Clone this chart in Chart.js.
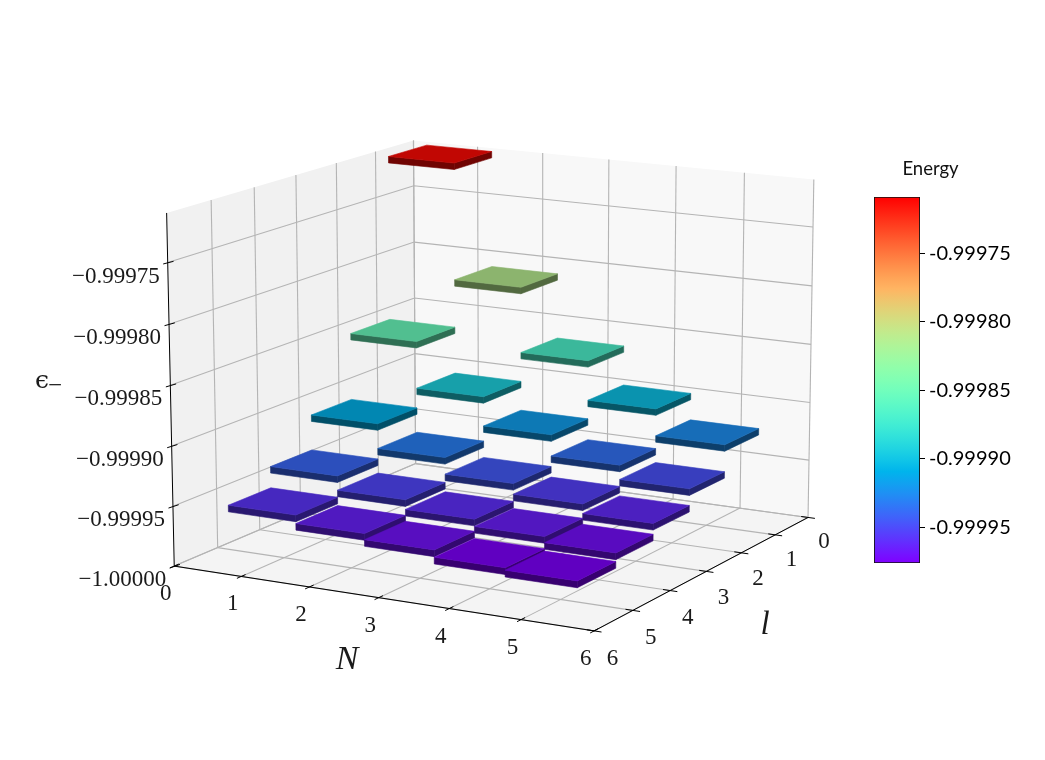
<!DOCTYPE html>
<html>
<head>
<meta charset="utf-8">
<script src="https://cdn.jsdelivr.net/npm/chart.js@4"></script>
<style>
  body { margin: 0; background: #fff; }
  #wrap { position: relative; width: 1045px; height: 760px; overflow: hidden; }
  canvas { position: absolute; }
</style>
</head>
<body>
<div id="wrap">
  <canvas id="main" width="1045" height="760" style="left:0;top:0"></canvas>
  <canvas id="cbar" width="185" height="430" style="left:860px;top:150px"></canvas>
</div>
<script>
// data
const Ns = [1, 2, 3, 4, 5];
const ls = [1, 2, 3, 4, 5];
const energy_l1 = [-0.999712, -0.999812, -0.999868, -0.999902, -0.999925];
const energy_l2 = [-0.999853, -0.999893, -0.999918, -0.999936, -0.999948];
const energy_l3 = [-0.99991, -0.999931, -0.999945, -0.999954, -0.999962];
const energy_l4 = [-0.99994, -0.999952, -0.99996, -0.999966, -0.999971];
const energy_l5 = [-0.999958, -0.999965, -0.99997, -0.999976, -0.999978];
const energies = [energy_l1, energy_l2, energy_l3, energy_l4, energy_l5];

const axisTicks = [0, 1, 2, 3, 4, 5, 6];
const zTicks = [-1.0, -0.99995, -0.9999, -0.99985, -0.9998, -0.99975];
const cbTicks = [-0.99995, -0.9999, -0.99985, -0.9998, -0.99975];

const zMin = -1.0, zMax = -0.99971;
const vMin = -0.999976, vMax = -0.999709;
const barThick = 0.0000055;

// where the corners of the box land on the page, the projection is fitted to these
const calib = [
  [0, 0, 0, 416, 465], [6, 0, 0, 808, 516], [0, 6, 0, 174, 565], [6, 6, 0, 594, 632],
  [0, 0, 1, 413, 140], [6, 0, 1, 814, 180], [0, 6, 1, 167, 213]
];

function solve(A, b) {
  const n = b.length;
  for (let i = 0; i < n; i++) {
    let p = i;
    for (let r = i + 1; r < n; r++) if (Math.abs(A[r][i]) > Math.abs(A[p][i])) p = r;
    [A[i], A[p]] = [A[p], A[i]];
    [b[i], b[p]] = [b[p], b[i]];
    for (let r = i + 1; r < n; r++) {
      const f = A[r][i] / A[i][i];
      for (let c = i; c < n; c++) A[r][c] -= f * A[i][c];
      b[r] -= f * b[i];
    }
  }
  const out = new Array(n).fill(0);
  for (let i = n - 1; i >= 0; i--) {
    let s = b[i];
    for (let c = i + 1; c < n; c++) s -= A[i][c] * out[c];
    out[i] = s / A[i][i];
  }
  return out;
}

function fitProjection() {
  const rows = [], rhs = [];
  calib.forEach(c => {
    const u = c[0] / 6, v = c[1] / 6, w = c[2], x = c[3], y = c[4];
    rows.push([1, u, v, w, 0, 0, 0, 0, -x * u, -x * v, -x * w]); rhs.push(x);
    rows.push([0, 0, 0, 0, 1, u, v, w, -y * u, -y * v, -y * w]); rhs.push(y);
  });
  const n = 11;
  const AtA = [], Atb = [];
  for (let i = 0; i < n; i++) {
    AtA.push(new Array(n).fill(0));
    Atb.push(0);
    rows.forEach((r, k) => {
      for (let j = 0; j < n; j++) AtA[i][j] += r[i] * r[j];
      Atb[i] += r[i] * rhs[k];
    });
  }
  return solve(AtA, Atb);
}
const P = fitProjection();

function project(N, l, z) {
  const u = N / 6, v = l / 6, w = (z - zMin) / (zMax - zMin);
  const d = 1 + P[8] * u + P[9] * v + P[10] * w;
  return {
    x: (P[0] + P[1] * u + P[2] * v + P[3] * w) / d,
    y: (P[4] + P[5] * u + P[6] * v + P[7] * w) / d
  };
}

// matplotlib rainbow
function rainbow(t) {
  const c = v => Math.max(0, Math.min(1, v));
  return [c(Math.abs(2 * t - 0.5)), c(Math.sin(Math.PI * t)), c(Math.cos(Math.PI * t / 2))];
}
function rgbStr(rgb, k) {
  return 'rgb(' + rgb.map(v => Math.round(v * k * 255)).join(',') + ')';
}

const datasets = [];
function addPoly(pts, color, seal) {
  datasets.push({ data: pts, showLine: true, pointRadius: 0, borderWidth: 0, polyFill: color, seal: seal, order: -datasets.length });
}
function addLine(pts, color, width) {
  datasets.push({ data: pts, showLine: true, pointRadius: 0, borderColor: color, borderWidth: width, order: -datasets.length });
}

// panes
addPoly([project(0, 0, zMin), project(0, 6, zMin), project(0, 6, zMax), project(0, 0, zMax)], '#f1f1f1');
addPoly([project(0, 0, zMin), project(6, 0, zMin), project(6, 0, zMax), project(0, 0, zMax)], '#f8f8f8');
addPoly([project(0, 0, zMin), project(6, 0, zMin), project(6, 6, zMin), project(0, 6, zMin)], '#f4f4f4');

// grid
const gridCol = '#b4b4b4';
axisTicks.forEach(t => {
  addLine([project(t, 0, zMin), project(t, 6, zMin)], gridCol, 1.1);
  addLine([project(t, 0, zMin), project(t, 0, zMax)], gridCol, 1.1);
  addLine([project(0, t, zMin), project(6, t, zMin)], gridCol, 1.1);
  if (t < 6) addLine([project(0, t, zMin), project(0, t, zMax)], gridCol, 1.1);
});
zTicks.forEach(z => {
  addLine([project(0, 6, z), project(0, 0, z), project(6, 0, z)], gridCol, 1.1);
});

// axis lines and ticks
addLine([project(0, 6, zMin), project(0, 6, zMax)], '#000', 1);
addLine([project(0, 6, zMin), project(6, 6, zMin)], '#000', 1);
addLine([project(6, 6, zMin), project(6, 0, zMin)], '#000', 1);
axisTicks.forEach(t => {
  addLine([project(t, 5.9, zMin), project(t, 6.1, zMin)], '#000', 1);
  addLine([project(5.9, t, zMin), project(6.1, t, zMin)], '#000', 1);
});
zTicks.forEach(z => {
  addLine([project(0.02, 5.9, z), project(0, 6.1, z)], '#000', 1);
});

// bars, back to front, bar sits on its value
const cells = [];
ls.forEach((l, j) => Ns.forEach((N, i) => cells.push({ N: N, l: l, e: energies[j][i] })));
cells.sort((a, b) => (a.N + a.l) - (b.N + b.l));
cells.forEach(c => {
  const t = Math.max(0, (c.e - vMin) / (vMax - vMin));
  const rgb = rainbow(t);
  const x0 = c.N - 0.5, x1 = c.N + 0.5, y0 = c.l - 0.5, y1 = c.l + 0.5;
  const bot = c.e, top = c.e + barThick;
  addPoly([project(x0, y1, top), project(x1, y1, top), project(x1, y1, bot), project(x0, y1, bot)], rgbStr(rgb, 0.44), true);
  addPoly([project(x1, y0, top), project(x1, y1, top), project(x1, y1, bot), project(x1, y0, bot)], rgbStr(rgb, 0.44), true);
  addPoly([project(x0, y0, top), project(x1, y0, top), project(x1, y1, top), project(x0, y1, top)], rgbStr(rgb, 0.755), true);
});

// labels
const texts = [];
const tickFont = '23px "Liberation Serif"';
axisTicks.forEach(t => {
  const a = project(t, 6, zMin);
  texts.push({ s: String(t), x: a.x - 8.5, y: a.y + 28, font: tickFont });
  const b = project(6, t, zMin);
  texts.push({ s: String(t), x: b.x + 16 + t * 0.4, y: b.y + 25 + t * 0.5, font: tickFont });
});
zTicks.forEach(z => {
  const a = project(0, 6, z);
  texts.push({ s: '\u2212' + Math.abs(z).toFixed(5), x: a.x - 8, y: a.y + 14, font: tickFont, align: 'right' });
});
texts.push({ s: 'N', x: 347, y: 660, font: 'italic 34px "Liberation Serif"' });
texts.push({ s: 'l', x: 765, y: 625, font: 'italic 33px "Liberation Serif"' });
texts.push({ s: '\u03F5', x: 42, y: 381, font: '25px "DejaVu Serif"' });
texts.push({ s: '\u2212', x: 55, y: 386, font: '25px "Liberation Serif"' });

const polyPlugin = {
  id: 'polyFill',
  beforeDatasetDraw(chart, args) {
    const ds = chart.data.datasets[args.index];
    if (!ds.polyFill) return;
    const pts = args.meta.data, ctx = chart.ctx;
    ctx.save();
    ctx.beginPath();
    pts.forEach((p, i) => i ? ctx.lineTo(p.x, p.y) : ctx.moveTo(p.x, p.y));
    ctx.closePath();
    ctx.fillStyle = ds.polyFill;
    ctx.fill();
    if (ds.seal) {
      ctx.strokeStyle = ds.polyFill;
      ctx.lineWidth = 0.6;
      ctx.stroke();
    }
    ctx.restore();
  },
  afterDraw(chart) {
    const ctx = chart.ctx;
    ctx.save();
    ctx.fillStyle = '#1a1a1a';
    ctx.textBaseline = 'middle';
    texts.forEach(t => {
      ctx.font = t.font;
      ctx.textAlign = t.align || 'center';
      ctx.fillText(t.s, t.x, t.y);
    });
    ctx.restore();
  }
};

new Chart(document.getElementById('main'), {
  type: 'scatter',
  data: { datasets: datasets },
  plugins: [polyPlugin],
  options: {
    responsive: false,
    animation: false,
    events: [],
    layout: { padding: 0 },
    plugins: { legend: { display: false }, tooltip: { enabled: false } },
    scales: {
      x: { type: 'linear', min: 0, max: 1045, display: false },
      y: { type: 'linear', min: 0, max: 760, reverse: true, display: false }
    }
  }
});

// colorbar
function cbGradient(c) {
  const area = c.chart.chartArea;
  if (!area) return '#888';
  const g = c.chart.ctx.createLinearGradient(0, area.bottom, 0, area.top);
  for (let i = 0; i <= 32; i++) g.addColorStop(i / 32, rgbStr(rainbow(i / 32), 1));
  return g;
}
const cbTitle = {
  id: 'cbTitle',
  afterDraw(chart) {
    const ctx = chart.ctx;
    ctx.save();
    ctx.font = '18.5px Lato';
    ctx.fillStyle = '#111';
    ctx.textAlign = 'center';
    ctx.textBaseline = 'middle';
    ctx.fillText('Energy', 70.5, 19);
    ctx.restore();
  }
};
new Chart(document.getElementById('cbar'), {
  type: 'bar',
  data: {
    labels: [''],
    datasets: [{
      data: [[vMin, vMax]],
      backgroundColor: cbGradient,
      borderColor: '#111',
      borderWidth: 1.2,
      borderSkipped: false,
      barPercentage: 1,
      categoryPercentage: 1
    }]
  },
  plugins: [cbTitle],
  options: {
    responsive: false,
    animation: false,
    events: [],
    layout: { padding: { left: 14, top: 47, bottom: 17, right: 0 } },
    plugins: { legend: { display: false }, tooltip: { enabled: false } },
    scales: {
      x: { display: false },
      y: {
        position: 'right',
        min: vMin,
        max: vMax,
        afterBuildTicks: axis => { axis.ticks = cbTicks.map(v => ({ value: v })); },
        afterFit: axis => { axis.width = 125; },
        grid: { drawOnChartArea: false, tickLength: 5, tickColor: '#000', tickWidth: 1 },
        border: { display: false },
        ticks: {
          color: '#000',
          padding: 4,
          font: { family: 'Lato', size: 20 },
          callback: v => Number(v).toFixed(5)
        }
      }
    }
  }
});
</script>
</body>
</html>
